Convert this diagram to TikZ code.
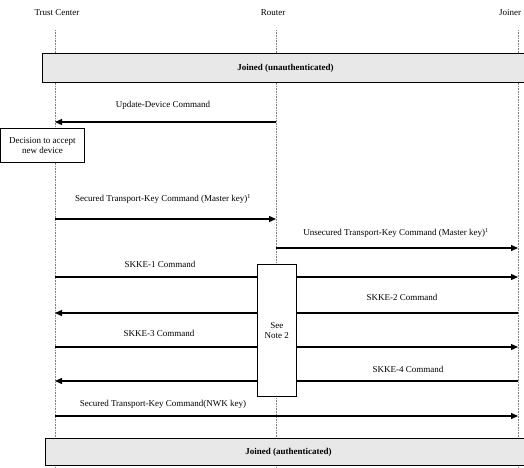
\documentclass[tikz,border=0pt]{standalone}
\usepackage{fontspec}
\setmainfont{Liberation Serif}
\usetikzlibrary{arrows.meta}
\begin{document}
\begin{tikzpicture}[x=1pt,y=-1pt,
  lbl/.style={font=\fontsize{9}{10}\selectfont, inner sep=1pt},
  head/.style={font=\fontsize{9}{10}\selectfont, inner sep=1pt},
  life/.style={densely dotted, gray, line width=0.6pt},
  msg/.style={line width=1.3pt, -{Triangle[length=7pt,width=6pt]}},
  bar/.style={draw, line width=0.9pt, fill=gray!18, font=\fontsize{9}{10}\selectfont\bfseries, inner sep=0pt, anchor=north west},
  notebox/.style={draw, fill=white, line width=0.6pt, font=\fontsize{9}{10}\selectfont, align=center, inner sep=1pt, anchor=north west},
  decbox/.style={draw, fill=white, line width=0.8pt, font=\fontsize{9}{10}\selectfont, align=center, inner sep=1pt, anchor=north west}]
\useasboundingbox (0,0) rectangle (524,467);
\clip (0,0) rectangle (524,467);

% headers
\node[head] (tc) at (57,13) {Trust Center};
\node[head] (rt) at (273,13) {Router};
\node[head, anchor=west] (jn) at (498,13) {Joiner};

% lifelines
\coordinate (tcT) at (55,30);  \coordinate (tcB) at (55,467);
\coordinate (rtT) at (276,30); \coordinate (rtB) at (276,467);
\coordinate (jnT) at (518,30); \coordinate (jnB) at (518,467);
\draw[life] (tcT) -- (tcB);
\draw[life] (rtT) -- (rtB);
\draw[life] (jnT) -- (jnB);

% bars
\node[bar, minimum width=486pt, minimum height=29pt] (top) at (42,53) {Joined (unauthenticated)};
\node[bar, minimum width=486pt, minimum height=27pt] (bot) at (45,438) {Joined (authenticated)};

% lifeline points
\foreach \n/\y in {a/122,b/219,c/248,d/277,e/313,f/347,g/381,h/416}{
  \coordinate (tc\n) at (55,\y);
  \coordinate (rt\n) at (276,\y);
  \coordinate (jn\n) at (518,\y);
}

% messages
\draw[msg] (rta) -- (tca);
\node[lbl] (la) at (163,105) {Update-Device Command};

\node[decbox, minimum width=84pt, minimum height=34pt] (dec) at (0,128) {Decision to accept\\new device};

\draw[msg] (tcb) -- (rtb);
\node[lbl] (lb) at (163,199) {Secured Transport-Key Command (Master key)\textsuperscript{1}};

\draw[msg] (rtc) -- (jnc);
\node[lbl] (lc) at (396,233) {Unsecured Transport-Key Command (Master key)\textsuperscript{1}};

\draw[msg] (tcd) -- (jnd);
\node[lbl] (ld) at (160,264) {SKKE-1 Command};

\draw[msg] (jne) -- (tce);
\node[lbl] (le) at (402,297) {SKKE-2 Command};

\draw[msg] (tcf) -- (jnf);
\node[lbl] (lf) at (159,333) {SKKE-3 Command};

\draw[msg] (jng) -- (tcg);
\node[lbl] (lg) at (408,369) {SKKE-4 Command};

\draw[msg] (tch) -- (jnh);
\node[lbl] (lh) at (163,404) {Secured Transport-Key Command(NWK key)};

% note box
\node[notebox, minimum width=39pt, minimum height=132pt] (note) at (257,264) {See\\Note 2};
\end{tikzpicture}
\end{document}
